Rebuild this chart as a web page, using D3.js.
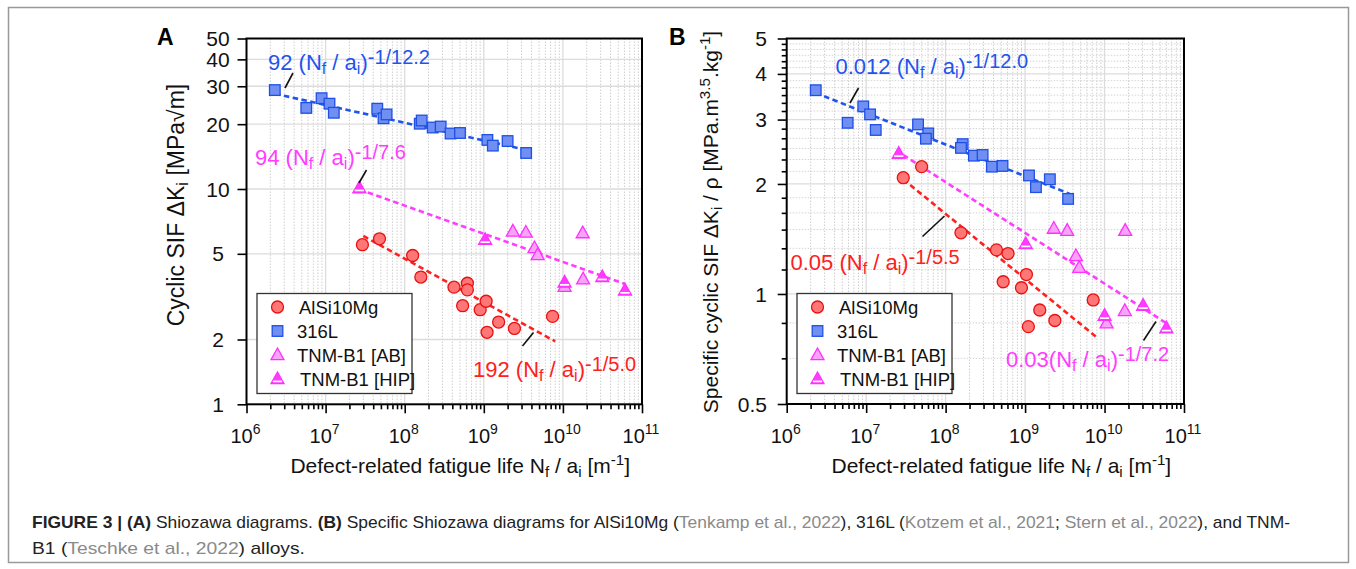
<!DOCTYPE html>
<html>
<head>
<meta charset="utf-8">
<script src="https://cdn.jsdelivr.net/npm/d3@7/dist/d3.min.js"></script>
<style>
body { margin: 0; background: #fff; }
svg { display: block; }
text { font-family: "Liberation Sans", Arial, sans-serif; }
</style>
</head>
<body>
<svg id="fig" width="1356" height="569"></svg>
<script>
// values, each point is [Nf/ai, value]
var xExps = [6, 7, 8, 9, 10, 11];
var yTicksA = [1, 2, 5, 10, 20, 30, 40, 50];
var yTicksB = [0.5, 1, 2, 3, 4, 5];
var legendNames = ["AlSi10Mg", "316L", "TNM-B1 [AB]", "TNM-B1 [HIP]"];

// panel A : cyclic SIF
var alA = [[2.92e7,5.51],[4.8e7,5.87],[1.26e8,4.91],[1.6e8,3.90],[4.2e8,3.50],[6.2e8,3.65],[6.2e8,3.40],
  [5.4e8,2.87],[9.0e8,2.75],[1.07e9,3.01],[1.1e9,2.16],[1.54e9,2.41],[2.44e9,2.25],[7.4e9,2.56]];
var ssA = [[2.28e6,28.8],[5.7e6,23.8],[8.9e6,26.4],[1.12e7,24.9],[1.27e7,22.6],[4.5e7,23.6],[5.4e7,21.3],
  [5.9e7,22.2],[1.55e8,20.1],[1.64e8,20.8],[2.26e8,19.3],[2.85e8,19.5],[3.8e8,18.1],[5.0e8,18.2],
  [1.11e9,16.9],[1.3e9,15.9],[2.0e9,16.7],[3.43e9,14.7]];
var abA = [[2.33e9,6.35],[3.4e9,6.28],[4.37e9,5.32],[4.8e9,4.94],[1.78e10,6.24],[1.05e10,3.52],[1.8e10,3.81]];
var hipA = [[2.67e7,10.1],[1.04e9,5.81],[1.05e10,3.68],[3.15e10,3.90],[6.1e10,3.38]];
var fitAlA = [[3.0e7,6.05],[8.0e9,1.96]];
var fitSsA = [[2.3e6,27.7],[3.4e9,15.2]];
var fitTiA = [[2.67e7,9.95],[6.1e10,3.62]];

// panel B : specific cyclic SIF
var alB = [[2.93e7,2.08],[4.99e7,2.23],[1.56e8,1.47],[4.37e8,1.32],[6.1e8,1.29],[1.04e9,1.13],[5.3e8,1.08],
  [9.0e8,1.04],[1.1e9,0.814],[1.53e9,0.904],[2.37e9,0.846],[7.2e9,0.963]];
var ssB = [[2.32e6,3.61],[5.85e6,2.94],[9.2e6,3.26],[1.12e7,3.10],[1.32e7,2.81],[4.5e7,2.91],[6.04e7,2.75],
  [5.65e7,2.66],[1.64e8,2.57],[1.56e8,2.51],[2.27e8,2.39],[2.92e8,2.40],[3.82e8,2.23],[5.2e8,2.24],
  [1.12e9,2.11],[1.37e9,1.96],[2.05e9,2.06],[3.48e9,1.82]];
var abB = [[2.3e9,1.51],[3.39e9,1.49],[4.36e9,1.27],[4.8e9,1.18],[1.82e10,1.49],[1.06e10,0.832],[1.8e10,0.899]];
var hipB = [[2.57e7,2.42],[1.02e9,1.37],[1.0e10,0.872],[3.06e10,0.929],[6.0e10,0.806]];
var fitAlB = [[2.93e7,2.06],[7.8e9,0.764]];
var fitSsB = [[2.32e6,3.55],[3.85e9,1.87]];
var fitTiB = [[2.93e7,2.40],[6.0e10,0.832]];

var RED = "#ff2020", BLUE = "#1f55ee", MAG = "#ff3cff";

var svg = d3.select("#fig");

// outer frame of the figure
svg.append("rect").attr("x", 8.5).attr("y", 7.5).attr("width", 1340).attr("height", 555)
  .attr("fill", "none").attr("stroke", "#999").attr("stroke-width", 1.5);

function subSup(t, parts, base) {
  // parts: [text, shift] ; shift 0 normal, 1 sub, -1 sup
  var prev = 0;
  parts.forEach(function (p) {
    var s = t.append("tspan").text(p[0]);
    var dy = 0;
    if (p[1] == 1) dy = 4; else if (p[1] == -1) dy = -8;
    s.attr("dy", dy - prev);
    prev = dy;
    if (p[1] != 0) s.style("font-size", (base * 0.72) + "px");
  });
}

function formula(g, x, y, coef, exp, color) {
  var t = g.append("text").attr("x", x).attr("y", y).attr("fill", color).style("font-size", "22px");
  t.append("tspan").text(coef + "N");
  t.append("tspan").attr("dy", 4).style("font-size", "16px").text("f");
  t.append("tspan").attr("dy", -4).text(" / a");
  t.append("tspan").attr("dy", 4).style("font-size", "16px").text("i");
  t.append("tspan").attr("dy", -4).text(")");
  t.append("tspan").attr("dy", -6).style("font-size", "20px").text(exp);
}

function tri(cx, cy, s) {
  var h = s * 0.9;
  return "M" + cx + "," + (cy - h * 0.6) + "L" + (cx - s / 2) + "," + (cy + h * 0.4) +
    "L" + (cx + s / 2) + "," + (cy + h * 0.4) + "Z";
}

function marker(g, kind, cx, cy) {
  if (kind == 0) {
    g.append("circle").attr("cx", cx).attr("cy", cy).attr("r", 6)
      .attr("fill", "#ff7676").attr("stroke", "#e81010").attr("stroke-width", 1.3);
  } else if (kind == 1) {
    g.append("rect").attr("x", cx - 5.3).attr("y", cy - 5.3).attr("width", 10.6).attr("height", 10.6)
      .attr("fill", "#6f8ff2").attr("stroke", "#1f4fe6").attr("stroke-width", 1.3);
  } else if (kind == 2) {
    g.append("path").attr("d", tri(cx, cy, 13))
      .attr("fill", "#f7a3f7").attr("stroke", "#ff30ff").attr("stroke-width", 1.3);
  } else {
    g.append("path").attr("d", tri(cx, cy, 13))
      .attr("fill", "#ff3cff").attr("stroke", "#ff30ff").attr("stroke-width", 1.3);
    g.append("line").attr("x1", cx - 4.6).attr("x2", cx + 4.6).attr("y1", cy + 2.4).attr("y2", cy + 2.4)
      .attr("stroke", "#fff").attr("stroke-width", 1.7);
  }
}

function drawPanel(cfg) {
  var x = d3.scaleLog().domain([1e6, 1e11]).range([cfg.left, cfg.right]);
  var y = d3.scaleLog().domain(cfg.yDomain).range([cfg.bottom, cfg.top]);
  var g = svg.append("g");

  // grid
  var majX = [], minX = [];
  for (var e = 6; e < 11; e++) {
    for (var k = 1; k < 10; k++) {
      if (k == 1) majX.push(Math.pow(10, e)); else minX.push(k * Math.pow(10, e));
    }
  }
  g.selectAll(".gminx").data(minX).enter().append("line")
    .attr("x1", x).attr("x2", x).attr("y1", cfg.top).attr("y2", cfg.bottom)
    .attr("stroke", "#cfcfcf").attr("stroke-width", 1).attr("stroke-dasharray", "1.5,1.5");
  if (cfg.yMinor) {
    g.selectAll(".gminy").data(cfg.yMinor).enter().append("line")
      .attr("x1", cfg.left).attr("x2", cfg.right).attr("y1", y).attr("y2", y)
      .attr("stroke", "#d4d4d4").attr("stroke-width", 1).attr("stroke-dasharray", "1.5,1.5");
  }
  g.selectAll(".gmajx").data(majX.slice(1)).enter().append("line")
    .attr("x1", x).attr("x2", x).attr("y1", cfg.top).attr("y2", cfg.bottom)
    .attr("stroke", "#dcdcdc").attr("stroke-width", 1.3);
  g.selectAll(".gmajy").data(cfg.yGrid).enter().append("line")
    .attr("x1", cfg.left).attr("x2", cfg.right).attr("y1", y).attr("y2", y)
    .attr("stroke", "#dcdcdc").attr("stroke-width", 1.3);

  // axes ticks
  var ax = g.append("g").attr("transform", "translate(0," + cfg.bottom + ")");
  ax.call(d3.axisBottom(x).tickValues(majX.concat([1e11])).tickSize(9).tickFormat(""));
  ax.append("g").call(d3.axisBottom(x).tickValues(minX).tickSize(5).tickFormat(""));
  var ay = g.append("g").attr("transform", "translate(" + cfg.left + ",0)");
  ay.call(d3.axisLeft(y).tickValues(cfg.yTicks).tickSize(9).tickFormat(""));
  if (cfg.yMinor) ay.append("g").call(d3.axisLeft(y).tickValues(cfg.yMinor).tickSize(5).tickFormat(""));
  g.selectAll(".domain").remove();
  g.selectAll(".tick line").attr("stroke", "#000").attr("stroke-width", 1.6);

  g.append("rect").attr("x", cfg.left).attr("y", cfg.top)
    .attr("width", cfg.right - cfg.left).attr("height", cfg.bottom - cfg.top)
    .attr("fill", "none").attr("stroke", "#000").attr("stroke-width", 2);

  // tick labels
  xExps.forEach(function (e) {
    var t = g.append("text").attr("x", x(Math.pow(10, e)) - 1).attr("y", cfg.bottom + 39)
      .attr("text-anchor", "middle").style("font-size", "20px").attr("fill", "#111");
    t.append("tspan").text("10");
    t.append("tspan").attr("dy", -9).style("font-size", "14px").text(e);
  });
  cfg.yTicks.forEach(function (v) {
    g.append("text").attr("x", cfg.yLabelX).attr("y", y(v)).attr("dy", "0.36em")
      .attr("text-anchor", cfg.yAnchor).style("font-size", "21px").attr("fill", "#111").text(v);
  });

  // axis titles
  var xt = g.append("text").attr("x", (cfg.left + cfg.right) / 2 + 16).attr("y", 473)
    .attr("text-anchor", "middle").style("font-size", "21px").attr("fill", "#111");
  subSup(xt, [["Defect-related fatigue life N", 0], ["f", 1], [" / a", 0], ["i", 1], [" [m", 0], ["-1", -1], ["]", 0]], 21);
  var yt = g.append("text").attr("transform", "translate(" + cfg.yTitleX + "," + cfg.yTitleY + ") rotate(-90)")
    .attr("text-anchor", "middle").style("font-size", cfg.yTitleSize + "px").attr("fill", "#111");
  subSup(yt, cfg.yTitle, cfg.yTitleSize);

  // panel letter
  g.append("text").attr("x", cfg.letterX).attr("y", 45).style("font-size", "23px")
    .style("font-weight", "bold").attr("fill", "#000").text(cfg.letter);

  // fit lines
  var line = d3.line().x(function (d) { return x(d[0]); }).y(function (d) { return y(d[1]); });
  [[cfg.fits[0], RED], [cfg.fits[1], BLUE], [cfg.fits[2], MAG]].forEach(function (f) {
    g.append("path").attr("d", line(f[0])).attr("fill", "none").attr("stroke", f[1])
      .attr("stroke-width", 2.6).attr("stroke-dasharray", "5.5,3.5");
  });

  // points
  cfg.series.forEach(function (s, i) {
    s.forEach(function (d) { marker(g, i, x(d[0]), y(d[1])); });
  });

  // formula labels with leader lines
  cfg.notes.forEach(function (n) {
    g.append("line").attr("x1", n.l[0]).attr("y1", n.l[1]).attr("x2", n.l[2]).attr("y2", n.l[3])
      .attr("stroke", "#111").attr("stroke-width", 1.6);
    formula(g, n.x, n.y, n.coef, n.exp, n.color);
  });

  // legend
  var lg = g.append("g");
  lg.append("rect").attr("x", cfg.legX).attr("y", 293.5).attr("width", 155).attr("height", 100)
    .attr("fill", "#fff").attr("stroke", "#333").attr("stroke-width", 1.3);
  legendNames.forEach(function (name, i) {
    var ly = 307 + i * 24;
    marker(lg, i, cfg.legX + 20.5, ly);
    lg.append("text").attr("x", cfg.legX + (i == 0 ? 42 : (i == 3 ? 43 : 40))).attr("y", ly).attr("dy", "0.36em")
      .style("font-size", "18.5px").attr("fill", "#111").text(name);
  });
}

// minor y ticks of panel B, every 1/6 between 0.5 and 5
var yMinorB = [];
for (var k = 1; k < 27; k++) {
  var v = 0.5 + k / 6;
  if (Math.abs(v - Math.round(v)) > 1e-6) yMinorB.push(v);
}

drawPanel({
  left: 246.5, right: 642, top: 38.5, bottom: 404.3, yDomain: [1, 50],
  yTicks: yTicksA, yGrid: [2, 5, 10, 20, 30, 40], yMinor: null,
  yLabelX: 218, yAnchor: "middle",
  yTitleX: 184, yTitleY: 205, yTitleSize: 23,
  yTitle: [["Cyclic SIF ΔK", 0], ["i", 1], [" [MPa√m]", 0]],
  letter: "A", letterX: 157,
  fits: [fitAlA, fitSsA, fitTiA],
  series: [alA, ssA, abA, hipA],
  legX: 257,
  notes: [
    { x: 268, y: 70, coef: "92 (", exp: "-1/12.2", color: BLUE, l: [285, 88, 293, 73] },
    { x: 255, y: 165, coef: "94 (", exp: "-1/7.6", color: MAG, l: [359, 183, 366.5, 170] },
    { x: 473, y: 377, coef: "192 (", exp: "-1/5.0", color: RED, l: [522.5, 346, 533.5, 332.5] }
  ]
});

drawPanel({
  left: 786.7, right: 1184, top: 38.5, bottom: 404, yDomain: [0.5, 5],
  yTicks: yTicksB, yGrid: [1, 2, 3, 4], yMinor: yMinorB,
  yLabelX: 767, yAnchor: "end",
  yTitleX: 718, yTitleY: 222, yTitleSize: 21,
  yTitle: [["Specific cyclic SIF ΔK", 0], ["i", 1], [" / ρ [MPa.m", 0], ["3.5", -1], [".kg", 0], ["-1", -1], ["]", 0]],
  letter: "B", letterX: 669,
  fits: [fitAlB, fitSsB, fitTiB],
  series: [alB, ssB, abB, hipB],
  legX: 797,
  notes: [
    { x: 835.5, y: 73.5, coef: "0.012 (", exp: "-1/12.0", color: BLUE, l: [850, 103, 858.5, 88] },
    { x: 790.5, y: 270, coef: "0.05 (", exp: "-1/5.5", color: RED, l: [922.5, 236.5, 944.5, 216] },
    { x: 1006, y: 367, coef: "0.03(", exp: "-1/7.2", color: MAG, l: [1143.5, 340.5, 1156, 321.5] }
  ]
});

// caption
var cap = svg.append("g").style("font-family", "'Liberation Sans Narrow', 'DejaVu Sans Condensed', 'Liberation Sans', sans-serif")
  .style("font-size", "17px");
var c1 = cap.append("text").attr("x", 32).attr("y", 528).attr("fill", "#222")
  .attr("textLength", 1258).attr("lengthAdjust", "spacingAndGlyphs");
[["FIGURE 3 | (A)", "b"], [" Shiozawa diagrams. ", ""], ["(B)", "b"],
 [" Specific Shiozawa diagrams for AlSi10Mg (", ""], ["Tenkamp et al., 2022", "g"], ["), 316L (", ""],
 ["Kotzem et al., 2021", "g"], ["; ", ""], ["Stern et al., 2022", "g"], ["), and TNM-", ""]].forEach(function (p) {
  var s = c1.append("tspan").text(p[0]);
  if (p[1] == "b") s.style("font-weight", "bold");
  if (p[1] == "g") s.attr("fill", "#8a8a8a");
});
var c2 = cap.append("text").attr("x", 32).attr("y", 554).attr("fill", "#222")
  .attr("textLength", 273).attr("lengthAdjust", "spacingAndGlyphs");
[["B1 (", ""], ["Teschke et al., 2022", "g"], [") alloys.", ""]].forEach(function (p) {
  var s = c2.append("tspan").text(p[0]);
  if (p[1] == "g") s.attr("fill", "#8a8a8a");
});
</script>
</body>
</html>
